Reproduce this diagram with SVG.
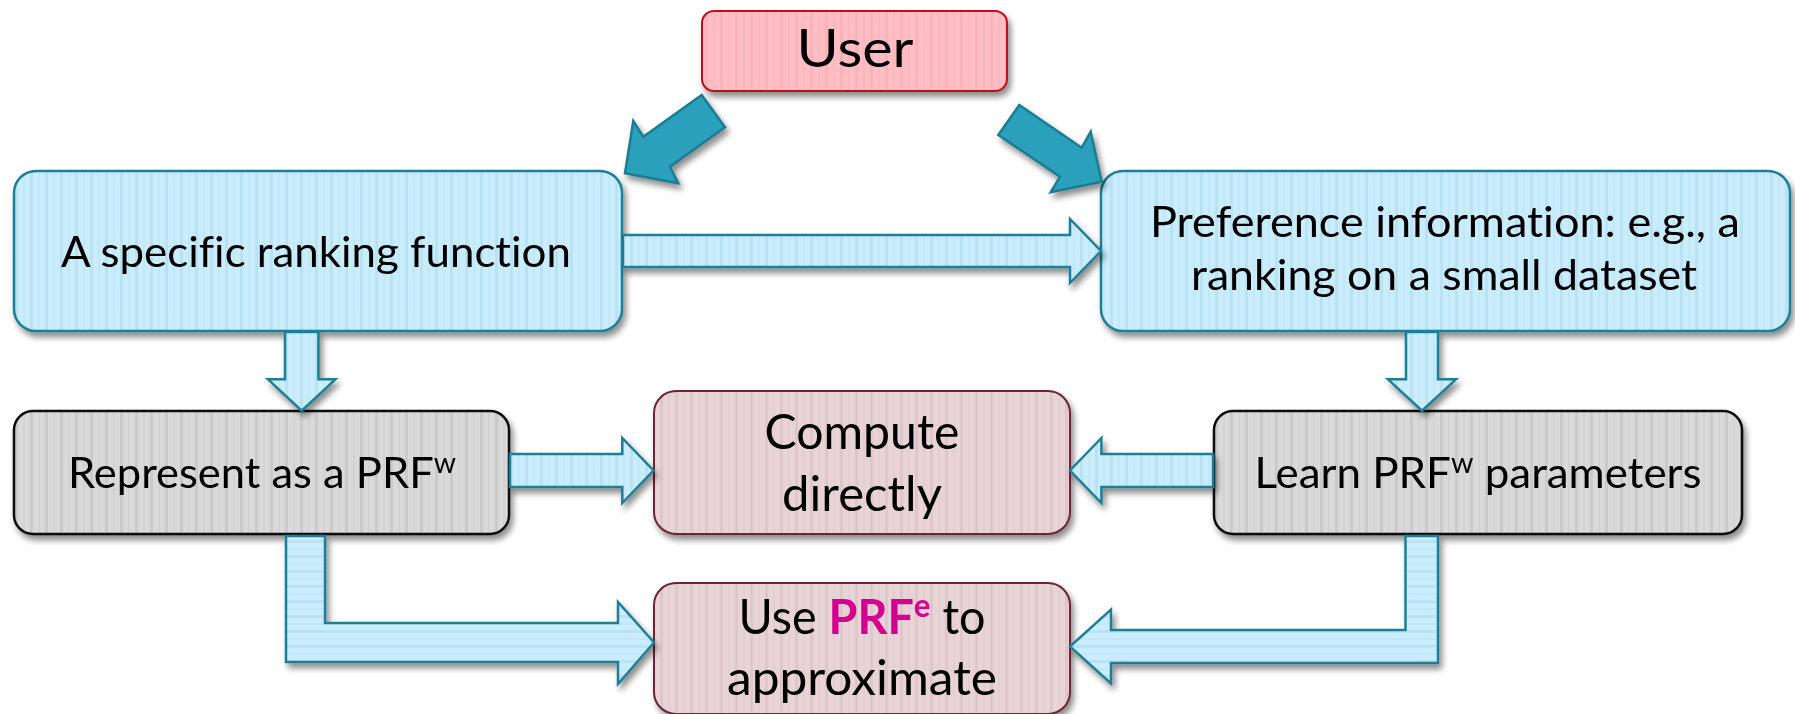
<svg xmlns="http://www.w3.org/2000/svg" width="1795" height="714" viewBox="0 0 1795 714">
  <style>
    text { font-family: Lato, "Open Sans", "Liberation Sans", sans-serif; fill: #000; text-anchor: middle; font-variant-ligatures: none; }
    .t40 { font-size: 43px; }
    .t45 { font-size: 48px; }
    .t49 { font-size: 53px; }
    .sup { font-size: 28px; }
    .hl { fill: #D4008F; font-weight: bold; }
    .blue { fill: url(#stripeBlue); stroke: #1F7F97; stroke-width: 2.5; }
    .gray { fill: url(#stripeGray); stroke: #111; stroke-width: 2.5; }
    .pink { fill: url(#stripePink); stroke: #C0101E; stroke-width: 2; }
    .mauve { fill: url(#stripeMauve); stroke: #6B2535; stroke-width: 2; }
    .flow { fill: url(#stripeBlue); stroke: #1F7F97; stroke-width: 2.5; stroke-linejoin: miter; }
    .flowH { fill: url(#stripeBlueH); stroke: #1F7F97; stroke-width: 2.5; stroke-linejoin: miter; }
    .bold { fill: #2BA0BD; stroke: #1D7C92; stroke-width: 2.5; stroke-linejoin: miter; }
  </style>
  <defs>
    <filter id="shadow" x="-10%" y="-10%" width="130%" height="140%">
      <feGaussianBlur in="SourceAlpha" stdDeviation="3"/>
      <feOffset dx="3" dy="5" result="off"/>
      <feComponentTransfer><feFuncA type="linear" slope="0.45"/></feComponentTransfer>
      <feMerge><feMergeNode/><feMergeNode in="SourceGraphic"/></feMerge>
    </filter>
    <!-- vertical stripe textures -->
    <pattern id="stripeBlue" patternUnits="userSpaceOnUse" width="15" height="10">
      <rect width="15" height="10" fill="#C9EDFC"/>
      <rect x="0" width="3" height="10" fill="#BBE2F2"/>
      <rect x="8" width="2" height="10" fill="#C2E8F8"/>
    </pattern>
    <pattern id="stripeBlueH" patternUnits="userSpaceOnUse" width="10" height="15">
      <rect width="10" height="15" fill="#C9EDFC"/>
      <rect y="0" width="10" height="3" fill="#BBE2F2"/>
      <rect y="8" width="10" height="2" fill="#C2E8F8"/>
    </pattern>
    <pattern id="stripeGray" patternUnits="userSpaceOnUse" width="15" height="10">
      <rect width="15" height="10" fill="#D9D9D9"/>
      <rect x="0" width="3" height="10" fill="#CACACA"/>
      <rect x="8" width="2" height="10" fill="#D2D2D2"/>
    </pattern>
    <pattern id="stripePink" patternUnits="userSpaceOnUse" width="15" height="10">
      <rect width="15" height="10" fill="#FFBEC3"/>
      <rect x="0" width="3" height="10" fill="#FBB2B9"/>
      <rect x="8" width="2" height="10" fill="#FDB8BE"/>
    </pattern>
    <pattern id="stripeMauve" patternUnits="userSpaceOnUse" width="15" height="10">
      <rect width="15" height="10" fill="#E8D4D7"/>
      <rect x="0" width="3" height="10" fill="#DDC7CB"/>
      <rect x="8" width="2" height="10" fill="#E3CED2"/>
    </pattern>
  </defs>

  <rect width="1795" height="714" fill="#FFFFFF"/>

  <!-- nodes -->
  <g id="node-user" filter="url(#shadow)">
    <rect class="pink" x="702" y="11" width="305" height="80" rx="12"/>
    <text class="t49" x="855" y="67" textLength="117" lengthAdjust="spacingAndGlyphs">User</text>
  </g>

  <g id="node-ranking-function" filter="url(#shadow)">
    <rect class="blue" x="14" y="171" width="608" height="160" rx="22"/>
    <text class="t40" x="316" y="267" textLength="510" lengthAdjust="spacingAndGlyphs">A specific ranking function</text>
  </g>

  <g id="node-preference" filter="url(#shadow)">
    <rect class="blue" x="1101" y="171" width="689" height="160" rx="22"/>
    <text class="t40" x="1445" y="237" textLength="590" lengthAdjust="spacingAndGlyphs">Preference information: e.g., a</text>
    <text class="t40" x="1444" y="290" textLength="506" lengthAdjust="spacingAndGlyphs">ranking on a small dataset</text>
  </g>

  <g id="node-represent" filter="url(#shadow)">
    <rect class="gray" x="14" y="411" width="495" height="123" rx="19"/>
    <text class="t40" x="262" y="488" textLength="388" lengthAdjust="spacingAndGlyphs">Represent as a PRF<tspan class="sup" dy="-15">w</tspan></text>
  </g>

  <g id="node-compute" filter="url(#shadow)">
    <rect class="mauve" x="654" y="391" width="416" height="143" rx="22"/>
    <text class="t45" x="862" y="449" textLength="195" lengthAdjust="spacingAndGlyphs">Compute</text>
    <text class="t45" x="862" y="511" textLength="160" lengthAdjust="spacingAndGlyphs">directly</text>
  </g>

  <g id="node-learn" filter="url(#shadow)">
    <rect class="gray" x="1214" y="411" width="528" height="123" rx="19"/>
    <text class="t40" x="1478" y="488" textLength="447" lengthAdjust="spacingAndGlyphs">Learn PRF<tspan class="sup" dy="-15">w</tspan><tspan dy="15"> parameters</tspan></text>
  </g>

  <g id="node-approximate" filter="url(#shadow)">
    <rect class="mauve" x="654" y="583" width="416" height="131" rx="22"/>
    <text class="t45" x="862" y="634" textLength="247" lengthAdjust="spacingAndGlyphs">Use <tspan class="hl">PRF</tspan><tspan class="hl" font-size="32" dy="-17">e</tspan><tspan dy="17"> to</tspan></text>
    <text class="t45" x="862" y="695" textLength="270" lengthAdjust="spacingAndGlyphs">approximate</text>
  </g>

  <!-- connectors -->
  <g id="connectors" filter="url(#shadow)">
    <!-- user to both inputs -->
    <polygon class="bold" points="701.7,95 725,127.3 670,166.7 678.3,183.3 625,173.3 633.3,121 643.3,136.7"/>
    <polygon class="bold" points="1019.3,105 1081.7,147.7 1090.7,131.7 1101.7,181.7 1050.7,192.3 1060,176.7 998.3,135"/>
    <!-- ranking function to preference information -->
    <polygon class="flow" points="623,235 1070,235 1070,219 1101,251 1070,283 1070,267 623,267"/>
    <!-- downward arrows -->
    <polygon class="flow" points="285,332 318.4,332 318.4,379.3 335.4,379.3 301.7,410.7 268,379.3 285,379.3"/>
    <polygon class="flow" points="1406,332 1438,332 1438,379.3 1456,379.3 1422,410.7 1388,379.3 1406,379.3"/>
    <!-- into compute directly -->
    <polygon class="flow" points="510,454 622.3,454 622.3,438 653.5,470.5 622.3,503 622.3,487 510,487"/>
    <polygon class="flow" points="1213,454 1101.4,454 1101.4,438 1070,470.5 1101.4,503 1101.4,487 1213,487"/>
    <!-- elbows into the approximation box -->
    <polygon class="flowH" points="286,536 325,536 325,623 618,623 618,602 654,642.5 618,684 618,662 286,662"/>
    <polygon class="flowH" points="1438,536 1438,663 1111,663 1111,683.5 1070,646.5 1111,609.5 1111,630 1405.5,630 1405.5,536"/>
  </g>
</svg>
